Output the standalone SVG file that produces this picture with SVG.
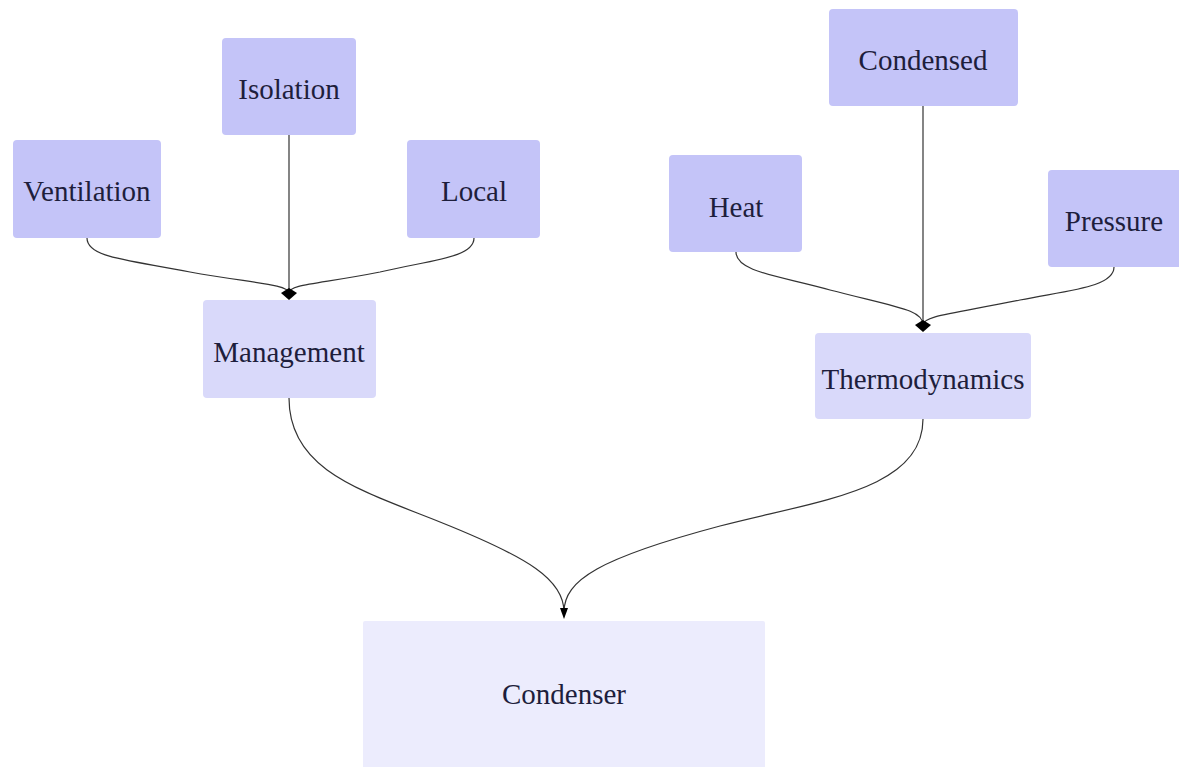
<svg xmlns="http://www.w3.org/2000/svg" width="1179" height="767" viewBox="0 0 1179 767">
  <style>
    .leaf rect { fill: #c4c4f8; }
    .mid rect { fill: #d9d9fa; }
    .root rect { fill: #ececfd; }
    text { font-family: "Liberation Serif", "Times New Roman", serif; font-size: 29px; fill: #1e1e3c; text-anchor: middle; dominant-baseline: central; }
    .edge { fill: none; stroke: #333; stroke-width: 1.2; }
    .head { fill: #000; }
  </style>
  <rect width="1179" height="767" fill="#ffffff"/>

  <g id="connectors">
    <!-- into Management -->
    <path class="edge" d="M87,238 C87,258 130,260 190,272 C250,283 289,284 289,293"/>
    <path class="edge" d="M289,135 L289,293"/>
    <path class="edge" d="M474,238 C474,258 430,260 380,272 C320,284 289,284 289,293"/>
    <path class="head" d="M281,293 L289,288 L297,293 L289,300 Z"/>

    <!-- into Thermodynamics -->
    <path class="edge" d="M736,252 C736,272 780,276 830,290 C900,308 923,310 923,325"/>
    <path class="edge" d="M923,106 L923,325"/>
    <path class="edge" d="M1114,267 C1114,287 1070,290 1020,300 C950,314 923,316 923,325"/>
    <path class="head" d="M915,325 L923,320 L931,325 L923,332 Z"/>

    <!-- into Condenser -->
    <path class="edge" d="M289,398 C289,470 360,490 440,522 C530,558 564,580 564,612"/>
    <path class="edge" d="M923,419 C923,490 820,500 720,526 C600,558 564,580 564,612"/>
    <path class="head" d="M560,608 L568,608 L564,619 Z"/>
  </g>

  <g id="ventilation" class="leaf"><rect x="13" y="140" width="148" height="98" rx="4"/><text x="87" y="191">Ventilation</text></g>
  <g id="isolation" class="leaf"><rect x="222" y="38" width="134" height="97" rx="4"/><text x="289" y="89">Isolation</text></g>
  <g id="local" class="leaf"><rect x="407" y="140" width="133" height="98" rx="4"/><text x="474" y="191">Local</text></g>
  <g id="management" class="mid"><rect x="203" y="300" width="173" height="98" rx="4"/><text x="289" y="352">Management</text></g>

  <g id="condensed" class="leaf"><rect x="829" y="9" width="189" height="97" rx="4"/><text x="923" y="60">Condensed</text></g>
  <g id="heat" class="leaf"><rect x="669" y="155" width="133" height="97" rx="4"/><text x="736" y="207">Heat</text></g>
  <g id="pressure" class="leaf"><rect x="1048" y="170" width="135" height="97" rx="4"/><text x="1114" y="221">Pressure</text></g>
  <g id="thermodynamics" class="mid"><rect x="815" y="333" width="216" height="86" rx="4"/><text x="923" y="379">Thermodynamics</text></g>

  <g id="condenser" class="root"><rect x="363" y="621" width="402" height="150" rx="2"/><text x="564" y="694">Condenser</text></g>
</svg>
